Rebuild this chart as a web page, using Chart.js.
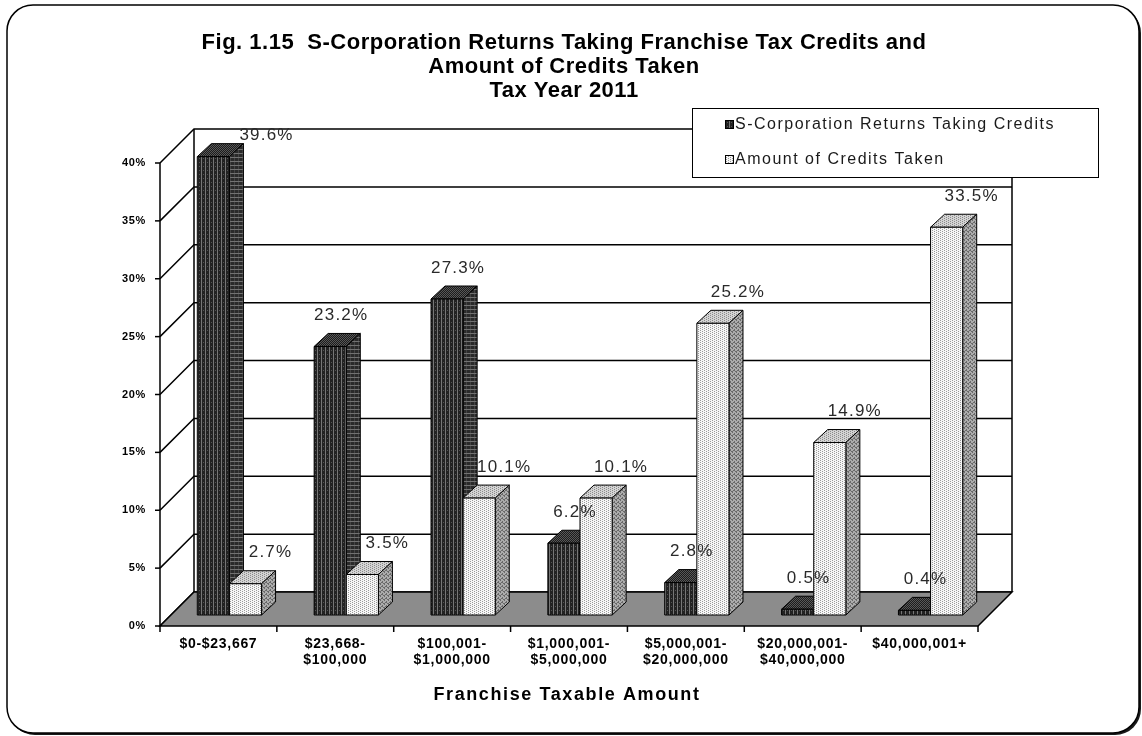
<!DOCTYPE html>
<html>
<head>
<meta charset="utf-8">
<title>S-Corporation Franchise Tax Credits, Tax Year 2011</title>
<script src="https://cdn.jsdelivr.net/npm/chart.js@4.4.1/dist/chart.umd.min.js"></script>
<style>
  html, body { margin: 0; padding: 0; background: #fff; }
  canvas { display: block; }
</style>
</head>
<body>
<canvas id="creditsChart" width="1142" height="736"></canvas>
<script>
// Franchise taxable amount brackets
const categories = [
    '$0-$23,667',
    ['$23,668-', '$100,000'],
    ['$100,001-', '$1,000,000'],
    ['$1,000,001-', '$5,000,000'],
    ['$5,000,001-', '$20,000,000'],
    ['$20,000,001-', '$40,000,000'],
    '$40,000,001+'
];

// Percent of returns / percent of credit dollars per bracket
const returnsShare = [39.6, 23.2, 27.3, 6.2, 2.8, 0.5, 0.4];
const creditsShare = [2.7, 3.5, 10.1, 10.1, 25.2, 14.9, 33.5];

const seriesNames = ['S-Corporation Returns Taking Credits', 'Amount of Credits Taken'];
const titleLines = [
    'Fig. 1.15  S-Corporation Returns Taking Franchise Tax Credits and',
    'Amount of Credits Taken',
    'Tax Year 2011'
];
const xAxisTitle = 'Franchise Taxable Amount';
const yMax = 40;
const yStep = 5;

// 3D look
const WALL_DEPTH = 34;      // floor / back wall depth
const BAR_SHIFT = 11;       // bars sit a little behind the front edge
const BAR_DX = 14, BAR_DY = 13;
const LABEL_DX = [22, 36];  // value label nudge per series
const FONT = '"Liberation Sans", Arial, sans-serif';

function makePattern(ctx, size, base, pixels) {
    const c = document.createElement('canvas');
    c.width = c.height = size;
    const g = c.getContext('2d');
    g.fillStyle = base;
    g.fillRect(0, 0, size, size);
    pixels.forEach(([x, y, col]) => {
        g.fillStyle = col;
        g.fillRect(x, y, 1, 1);
    });
    return ctx.createPattern(c, 'repeat');
}

function buildSkins(ctx) {
    const darkFront = [], darkSide = [], darkTop = [];
    for (let y = 0; y < 4; y++) {
        darkFront.push([1, y, '#767676']);
        darkSide.push([y, 1, '#727272']);
        darkSide.push([2, y, '#444444']);
        for (let x = 0; x < 4; x++) {
            if ((x + y) % 2 === 0) darkTop.push([x, y, '#585858']);
        }
    }
    darkFront.push([3, 2, '#555555']);
    const dots = [[0, 0], [2, 1], [0, 2], [2, 3]];
    const sideDots = [[0, 0], [2, 1], [1, 2], [3, 3], [0, 3], [2, 2]];
    return [
        {
            front: makePattern(ctx, 4, '#222222', darkFront),
            side: makePattern(ctx, 4, '#2a2a2a', darkSide),
            top: makePattern(ctx, 4, '#1c1c1c', darkTop)
        },
        {
            front: makePattern(ctx, 4, '#f6f6f6', dots.map(([x, y]) => [x, y, '#9a9a9a'])),
            side: makePattern(ctx, 4, '#acacac', sideDots.map(([x, y]) => [x, y, '#6a6a6a'])),
            top: makePattern(ctx, 4, '#d4d4d4', dots.map(([x, y]) => [x, y, '#8a8a8a']))
        }
    ];
}

let skins = null;

function poly(ctx, pts, fill) {
    ctx.beginPath();
    ctx.moveTo(pts[0][0], pts[0][1]);
    for (let i = 1; i < pts.length; i++) ctx.lineTo(pts[i][0], pts[i][1]);
    ctx.closePath();
    if (fill) {
        ctx.fillStyle = fill;
        ctx.fill();
    }
    ctx.stroke();
}

function draw3dBar(ctx, left, top, w, h, skin) {
    const right = left + w, bottom = top + h;
    poly(ctx, [[left, top], [left + BAR_DX, top - BAR_DY], [right + BAR_DX, top - BAR_DY], [right, top]], skin.top);
    poly(ctx, [[right, top], [right + BAR_DX, top - BAR_DY], [right + BAR_DX, bottom - BAR_DY], [right, bottom]], skin.side);
    poly(ctx, [[left, top], [right, top], [right, bottom], [left, bottom]], skin.front);
}

const chartFrame = {
    id: 'chartFrame',
    beforeDraw(chart) {
        const ctx = chart.ctx;
        if (!skins) skins = buildSkins(ctx);
        ctx.save();
        // rounded border with a drop shadow at the lower right
        ctx.fillStyle = '#1a1a1a';
        ctx.beginPath();
        ctx.roundRect(9, 7, 1132, 728, 26);
        ctx.fill();
        ctx.fillStyle = '#fff';
        ctx.strokeStyle = '#000';
        ctx.lineWidth = 1.5;
        ctx.beginPath();
        ctx.roundRect(7, 5, 1132, 728, 26);
        ctx.fill();
        ctx.stroke();

        // title
        ctx.fillStyle = '#000';
        ctx.font = 'bold 22px ' + FONT;
        ctx.letterSpacing = '0.5px';
        ctx.textAlign = 'center';
        ctx.textBaseline = 'middle';
        titleLines.forEach((line, i) => ctx.fillText(line, 564, 43 + i * 24));
        ctx.restore();
        // tick labels are a touch wider in this style
        ctx.letterSpacing = '0.7px';
    },
    beforeDatasetsDraw(chart) {
        const ctx = chart.ctx;
        const { left, right, top, bottom } = chart.chartArea;
        const yScale = chart.scales.y;
        const D = WALL_DEPTH;
        ctx.save();
        ctx.strokeStyle = '#000';
        ctx.lineWidth = 1.5;

        // back wall, side wall grid and front axis ticks
        ctx.fillStyle = '#fff';
        ctx.fillRect(left + D, top - D, right - left, bottom - top);
        yScale.ticks.forEach(t => {
            const y = yScale.getPixelForValue(t.value);
            ctx.beginPath();
            ctx.moveTo(left, y);
            ctx.lineTo(left + D, y - D);
            ctx.lineTo(right + D, y - D);
            ctx.stroke();
            ctx.beginPath();
            ctx.moveTo(left - 5, y);
            ctx.lineTo(left, y);
            ctx.stroke();
        });
        ctx.beginPath();
        ctx.moveTo(left, top);
        ctx.lineTo(left, bottom);
        ctx.moveTo(left + D, top - D);
        ctx.lineTo(left + D, bottom - D);
        ctx.moveTo(right + D, top - D);
        ctx.lineTo(right + D, bottom - D);
        ctx.stroke();

        // floor
        poly(ctx, [[left, bottom], [right, bottom], [right + D, bottom - D], [left + D, bottom - D]], '#8c8c8c');

        // category dividers under the floor
        const n = categories.length;
        const step = (right - left) / n;
        ctx.beginPath();
        for (let i = 0; i <= n; i++) {
            ctx.moveTo(left + i * step, bottom);
            ctx.lineTo(left + i * step, bottom + 6);
        }
        ctx.stroke();
        ctx.restore();
    },
    afterDatasetsDraw(chart) {
        const ctx = chart.ctx;
        const datasets = chart.data.datasets;
        const wallTop = chart.chartArea.top - WALL_DEPTH;
        ctx.save();
        ctx.strokeStyle = '#000';
        ctx.lineWidth = 1;
        ctx.font = '17px ' + FONT;
        ctx.letterSpacing = '1.2px';
        const tops = [];
        categories.forEach((_, i) => {
            datasets.forEach((ds, d) => {
                const bar = chart.getDatasetMeta(d).data[i];
                const { x, y, base, width } = bar.getProps(['x', 'y', 'base', 'width'], true);
                const left = x - width / 2 + BAR_SHIFT;
                draw3dBar(ctx, left, y - BAR_SHIFT, width, base - y, skins[d]);

                const text = ds.data[i].toFixed(1) + '%';
                let lx = x + LABEL_DX[d];
                let ly = y - BAR_SHIFT - 31;
                // a label that would rise above the wall goes beside the bar top instead
                if (ly - 8 < wallTop) {
                    ly = wallTop + 6;
                    lx = left + width + BAR_DX + ctx.measureText(text).width / 2 - 4;
                }
                tops.push({ x: lx, y: ly, text });
            });
        });

        // value labels
        ctx.fillStyle = '#2a2a2a';
        ctx.textAlign = 'center';
        ctx.textBaseline = 'middle';
        tops.forEach(l => ctx.fillText(l.text, l.x, l.y));
        ctx.restore();
    },
    afterDraw(chart) {
        const ctx = chart.ctx;
        const { left, right } = chart.chartArea;
        ctx.save();

        // legend
        ctx.fillStyle = '#fff';
        ctx.strokeStyle = '#000';
        ctx.lineWidth = 1;
        ctx.fillRect(692, 108, 406, 69);
        ctx.strokeRect(692.5, 108.5, 406, 69);
        ctx.font = '16px ' + FONT;
        ctx.letterSpacing = '1.5px';
        ctx.textBaseline = 'middle';
        ctx.textAlign = 'left';
        chart.data.datasets.forEach((ds, d) => {
            const cy = 125 + d * 35;
            ctx.fillStyle = skins[d].front;
            ctx.fillRect(725, cy - 5, 9, 9);
            ctx.strokeRect(725.5, cy - 4.5, 8, 8);
            ctx.fillStyle = '#1a1a1a';
            ctx.fillText(ds.label, 735, cy);
        });

        // x axis title
        ctx.fillStyle = '#000';
        ctx.font = 'bold 18px ' + FONT;
        ctx.letterSpacing = '1.6px';
        ctx.textAlign = 'center';
        ctx.fillText(xAxisTitle, (left + right) / 2 - 2, 695);
        ctx.restore();
    }
};

const ctx = document.getElementById('creditsChart').getContext('2d');
new Chart(ctx, {
    type: 'bar',
    data: {
        labels: categories,
        datasets: [{
            label: seriesNames[0],
            data: returnsShare,
            backgroundColor: 'rgba(0,0,0,0)',
            borderWidth: 0
        }, {
            label: seriesNames[1],
            data: creditsShare,
            backgroundColor: 'rgba(0,0,0,0)',
            borderWidth: 0
        }]
    },
    options: {
        responsive: false,
        animation: false,
        devicePixelRatio: 1,
        categoryPercentage: 0.55,
        barPercentage: 1,
        layout: { padding: { left: 110, top: 163, right: 164, bottom: 50 } },
        scales: {
            x: {
                grid: { display: false, drawTicks: false },
                border: { display: false },
                ticks: {
                    color: '#000',
                    font: { family: FONT, size: 14, weight: 'bold', lineHeight: 1.15 },
                    maxRotation: 0,
                    autoSkip: false,
                    padding: 10
                },
                afterFit(scale) { scale.height = 60; }
            },
            y: {
                min: 0,
                max: yMax,
                grid: { display: false, drawTicks: false },
                border: { display: false },
                ticks: {
                    stepSize: yStep,
                    color: '#000',
                    font: { family: FONT, size: 11, weight: 'bold' },
                    padding: 14,
                    callback: v => v + '%'
                },
                afterFit(scale) { scale.width = 50; }
            }
        },
        plugins: {
            legend: { display: false },
            tooltip: { enabled: false },
            title: { display: false }
        }
    },
    plugins: [chartFrame]
});
</script>
</body>
</html>
